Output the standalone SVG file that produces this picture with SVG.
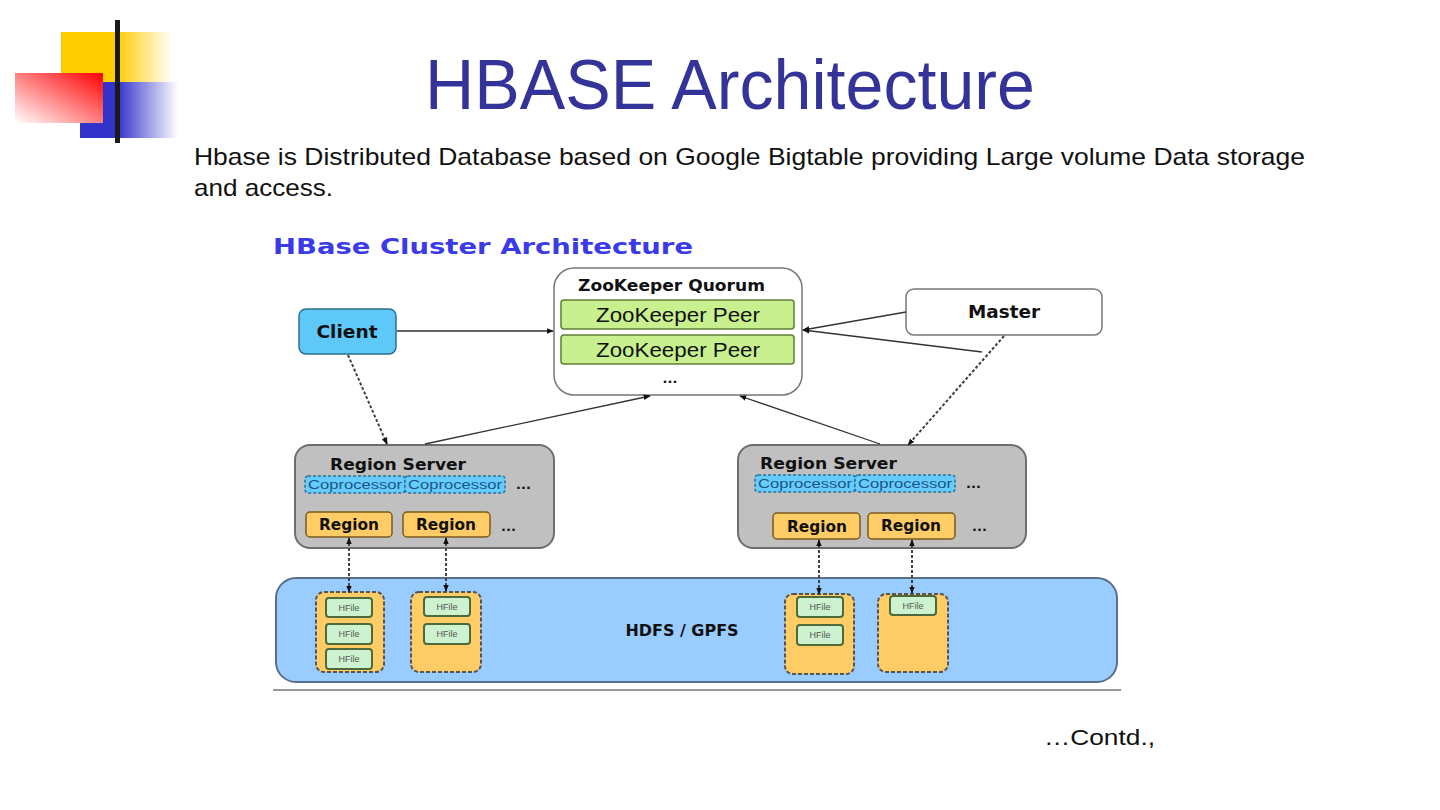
<svg xmlns="http://www.w3.org/2000/svg" width="1440" height="810" viewBox="0 0 1440 810">
<defs>
<linearGradient id="gY" x1="0" y1="0" x2="1" y2="0"><stop offset="0" stop-color="#ffcc00"/><stop offset="0.5" stop-color="#ffcc00"/><stop offset="1" stop-color="#ffffff"/></linearGradient>
<linearGradient id="gB" x1="0" y1="0" x2="1" y2="0"><stop offset="0" stop-color="#3333cc"/><stop offset="0.38" stop-color="#3333cc"/><stop offset="1" stop-color="#ffffff"/></linearGradient>
<linearGradient id="gR" x1="0" y1="1" x2="1" y2="0"><stop offset="0" stop-color="#ffffff"/><stop offset="1" stop-color="#ff0000"/></linearGradient>
<marker id="ah" viewBox="0 0 10 10" refX="9" refY="5" markerWidth="7" markerHeight="7" markerUnits="userSpaceOnUse" orient="auto-start-reverse"><path d="M0,1 L10,5 L0,9 z" fill="#111"/></marker>
<style>
.t{font-family:"Liberation Sans",Arial,sans-serif}
.b{font-family:"DejaVu Sans","Liberation Sans",Arial,sans-serif;font-weight:bold;fill:#111}
.ln{stroke:#333;stroke-width:1.3;fill:none}
.dl{stroke:#444;stroke-width:2;fill:none;stroke-dasharray:3 2}
.peer{fill:#c8f08e;stroke:#5e7f36;stroke-width:1.5}
.cop{fill:#66ccff;stroke:#2a6f95;stroke-width:1.5;stroke-dasharray:3 2}
.reg{fill:#ffcc66;stroke:#7a5a1a;stroke-width:1.5}
.cont{fill:#ffcc66;stroke:#555;stroke-width:2;stroke-dasharray:4 2}
.hf{fill:#ccf2d0;stroke:#4d6a3a;stroke-width:2}
.hft{font-family:"Liberation Sans",Arial,sans-serif;font-size:9px;fill:#555;text-anchor:middle}
.ct{font-family:"Liberation Sans",Arial,sans-serif;font-size:12px;fill:#1a5580;text-anchor:middle}
</style>
</defs>
<rect width="1440" height="810" fill="#fff"/>
<g id="logo">
<rect x="61" y="32" width="111" height="50" fill="url(#gY)"/>
<rect x="80" y="82" width="98" height="56" fill="url(#gB)"/>
<rect x="15" y="73" width="88" height="50" fill="url(#gR)"/>
<rect x="115" y="20" width="5" height="123" fill="#1a1a1a"/>
</g>
<text class="t" x="730" y="109" font-size="70" fill="#333399" text-anchor="middle" textLength="610" lengthAdjust="spacingAndGlyphs">HBASE Architecture</text>
<text class="t" x="194" y="165" font-size="24" fill="#111" textLength="1111" lengthAdjust="spacingAndGlyphs">Hbase is Distributed Database based on Google Bigtable providing Large volume Data storage</text>
<text class="t" x="194" y="196" font-size="24" fill="#111" textLength="139" lengthAdjust="spacingAndGlyphs">and access.</text>
<text class="b" x="273" y="254" font-size="22" style="fill:#3a3ae8" textLength="420" lengthAdjust="spacingAndGlyphs">HBase Cluster Architecture</text>

<g id="zookeeper">
<rect x="554" y="268" width="248" height="127" rx="20" fill="#fff" stroke="#777" stroke-width="1.5"/>
<text class="b" x="578" y="291" font-size="15" textLength="187" lengthAdjust="spacingAndGlyphs">ZooKeeper Quorum</text>
<rect class="peer" x="561" y="300" width="233" height="29" rx="3"/>
<text class="t" x="678" y="322" font-size="20" fill="#111" text-anchor="middle" textLength="164" lengthAdjust="spacingAndGlyphs">ZooKeeper Peer</text>
<rect class="peer" x="561" y="335" width="233" height="29" rx="3"/>
<text class="t" x="678" y="357" font-size="20" fill="#111" text-anchor="middle" textLength="164" lengthAdjust="spacingAndGlyphs">ZooKeeper Peer</text>
<text class="b" x="670" y="383" font-size="13" text-anchor="middle">...</text>
</g>

<g id="client">
<rect x="299" y="309" width="97" height="45" rx="7" fill="#5ec8f8" stroke="#2d6f8f" stroke-width="1.5"/>
<text class="b" x="347" y="338" font-size="17" text-anchor="middle" textLength="61" lengthAdjust="spacingAndGlyphs">Client</text>
</g>

<g id="master">
<rect x="906" y="289" width="196" height="46" rx="8" fill="#fff" stroke="#777" stroke-width="1.5"/>
<text class="b" x="1004" y="318" font-size="17" text-anchor="middle" textLength="72" lengthAdjust="spacingAndGlyphs">Master</text>
</g>

<g id="regionserver1">
<rect x="295" y="445" width="259" height="103" rx="15" fill="#c0c0c0" stroke="#6e6e6e" stroke-width="2"/>
<text class="b" x="330" y="470" font-size="15.5" textLength="136" lengthAdjust="spacingAndGlyphs">Region Server</text>
<rect class="cop" x="305" y="476" width="100" height="17" rx="3"/>
<text class="ct" x="355" y="489" textLength="94" lengthAdjust="spacingAndGlyphs">Coprocessor</text>
<rect class="cop" x="405" y="476" width="100" height="17" rx="3"/>
<text class="ct" x="455" y="489" textLength="94" lengthAdjust="spacingAndGlyphs">Coprocessor</text>
<text class="b" x="516" y="489" font-size="13">...</text>
<rect class="reg" x="306" y="512" width="86" height="25" rx="4"/>
<text class="b" x="349" y="530" font-size="15" text-anchor="middle" textLength="60" lengthAdjust="spacingAndGlyphs">Region</text>
<rect class="reg" x="403" y="512" width="87" height="25" rx="4"/>
<text class="b" x="446" y="530" font-size="15" text-anchor="middle" textLength="60" lengthAdjust="spacingAndGlyphs">Region</text>
<text class="b" x="501" y="531" font-size="13">...</text>
</g>

<g id="regionserver2">
<rect x="738" y="445" width="288" height="103" rx="15" fill="#c0c0c0" stroke="#6e6e6e" stroke-width="2"/>
<text class="b" x="760" y="469" font-size="15.5" textLength="137" lengthAdjust="spacingAndGlyphs">Region Server</text>
<rect class="cop" x="755" y="475" width="100" height="17" rx="3"/>
<text class="ct" x="805" y="488" textLength="94" lengthAdjust="spacingAndGlyphs">Coprocessor</text>
<rect class="cop" x="855" y="475" width="100" height="17" rx="3"/>
<text class="ct" x="905" y="488" textLength="94" lengthAdjust="spacingAndGlyphs">Coprocessor</text>
<text class="b" x="966" y="488" font-size="13">...</text>
<rect class="reg" x="773" y="513" width="87" height="26" rx="4"/>
<text class="b" x="817" y="532" font-size="15" text-anchor="middle" textLength="60" lengthAdjust="spacingAndGlyphs">Region</text>
<rect class="reg" x="868" y="513" width="87" height="26" rx="4"/>
<text class="b" x="911" y="531" font-size="15" text-anchor="middle" textLength="60" lengthAdjust="spacingAndGlyphs">Region</text>
<text class="b" x="972" y="531" font-size="13">...</text>
</g>

<g id="hdfs">
<rect x="276" y="578" width="841" height="104" rx="20" fill="#99ccff" stroke="#5a7088" stroke-width="2"/>
<text class="b" x="682" y="636" font-size="16" text-anchor="middle" textLength="113" lengthAdjust="spacingAndGlyphs">HDFS / GPFS</text>
<line x1="273" y1="690" x2="1121" y2="690" stroke="#999" stroke-width="2"/>
</g>

<g id="store1">
<rect class="cont" x="316" y="592" width="68" height="80" rx="8"/>
<rect class="hf" x="326" y="598" width="46" height="19" rx="3"/><text class="hft" x="349" y="611">HFile</text>
<rect class="hf" x="326" y="624" width="46" height="20" rx="3"/><text class="hft" x="349" y="637">HFile</text>
<rect class="hf" x="326" y="649" width="46" height="20" rx="3"/><text class="hft" x="349" y="662">HFile</text>
</g>
<g id="store2">
<rect class="cont" x="411" y="592" width="70" height="80" rx="8"/>
<rect class="hf" x="424" y="597" width="46" height="19" rx="3"/><text class="hft" x="447" y="610">HFile</text>
<rect class="hf" x="424" y="624" width="46" height="20" rx="3"/><text class="hft" x="447" y="637">HFile</text>
</g>
<g id="store3">
<rect class="cont" x="785" y="594" width="69" height="80" rx="8"/>
<rect class="hf" x="797" y="597" width="46" height="20" rx="3"/><text class="hft" x="820" y="610">HFile</text>
<rect class="hf" x="797" y="625" width="46" height="20" rx="3"/><text class="hft" x="820" y="638">HFile</text>
</g>
<g id="store4">
<rect class="cont" x="878" y="594" width="70" height="78" rx="8"/>
<rect class="hf" x="890" y="596" width="46" height="19" rx="3"/><text class="hft" x="913" y="609">HFile</text>
</g>

<g id="connectors">
<line class="ln" x1="397" y1="331" x2="553" y2="331" marker-end="url(#ah)"/>
<line class="ln" x1="906" y1="312" x2="803" y2="330" marker-end="url(#ah)"/>
<line class="ln" x1="982" y1="352" x2="803" y2="330" marker-end="url(#ah)"/>
<line class="dl" x1="1004" y1="336" x2="908" y2="445" marker-end="url(#ah)"/>
<line class="dl" x1="348" y1="355" x2="387" y2="444" marker-end="url(#ah)"/>
<line class="ln" x1="425" y1="444" x2="650" y2="396" marker-end="url(#ah)"/>
<line class="ln" x1="880" y1="444" x2="740" y2="396" marker-end="url(#ah)"/>
<line class="dl" x1="349" y1="538" x2="349" y2="592" marker-start="url(#ah)" marker-end="url(#ah)"/>
<line class="dl" x1="446" y1="538" x2="446" y2="591" marker-start="url(#ah)" marker-end="url(#ah)"/>
<line class="dl" x1="819" y1="540" x2="819" y2="594" marker-start="url(#ah)" marker-end="url(#ah)"/>
<line class="dl" x1="912" y1="540" x2="912" y2="593" marker-start="url(#ah)" marker-end="url(#ah)"/>
</g>

<text class="t" x="1044" y="745" font-size="22" fill="#111" textLength="111" lengthAdjust="spacingAndGlyphs">…Contd.,</text>
</svg>
